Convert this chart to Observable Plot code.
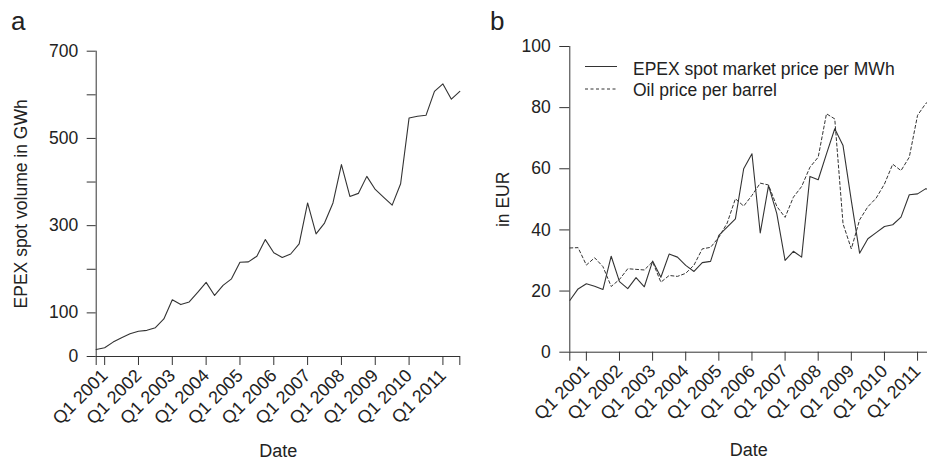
<!DOCTYPE html>
<html>
<head>
<meta charset="utf-8">
<script src="https://cdn.jsdelivr.net/npm/d3@7"></script>
<script src="https://cdn.jsdelivr.net/npm/@observablehq/plot@0.6"></script>
<style>
  body { margin: 0; background: #fff; }
  #wrap { position: relative; width: 927px; height: 459px; overflow: hidden; background: #fff;
          font-family: "Liberation Sans", Arial, sans-serif; }
  #pa { position: absolute; left: 0; top: 0; }
  #pb { position: absolute; left: 460px; top: 0; }
  #overlay { position: absolute; left: 0; top: 0; pointer-events: none; }
</style>
</head>
<body>
<div id="wrap">
  <div id="pa"></div>
  <div id="pb"></div>
  <svg id="overlay" width="927" height="459" font-family="Liberation Sans, Arial, sans-serif" fill="#222">
    <text x="11" y="30" font-size="26">a</text>
    <text x="490" y="29.5" font-size="26">b</text>
    <g id="legend" font-size="17.5"></g>
  </svg>
</div>
<script>
// ---- data (quarterly) ----
const quarters = [
  "Q3 2000","Q4 2000",
  "Q1 2001","Q2 2001","Q3 2001","Q4 2001",
  "Q1 2002","Q2 2002","Q3 2002","Q4 2002",
  "Q1 2003","Q2 2003","Q3 2003","Q4 2003",
  "Q1 2004","Q2 2004","Q3 2004","Q4 2004",
  "Q1 2005","Q2 2005","Q3 2005","Q4 2005",
  "Q1 2006","Q2 2006","Q3 2006","Q4 2006",
  "Q1 2007","Q2 2007","Q3 2007","Q4 2007",
  "Q1 2008","Q2 2008","Q3 2008","Q4 2008",
  "Q1 2009","Q2 2009","Q3 2009","Q4 2009",
  "Q1 2010","Q2 2010","Q3 2010","Q4 2010",
  "Q1 2011","Q2 2011","Q3 2011"
];
// Panel a: EPEX spot volume in GWh
const volumeGWh = [
  null, 16,
  20, 33, 43, 52,
  58, 60, 66, 86,
  130, 119, 125, 147,
  170, 140, 163, 178,
  216, 217, 230, 268,
  238, 227, 235, 258,
  352, 281, 306, 352,
  440, 367, 374, 413,
  383, 365, 347, 396,
  547, 551, 553, 608,
  625, 590, 608
];
// Panel b: EPEX spot market price per MWh (EUR)
const epexPrice = [
  16.9, 20.7,
  22.4, 21.6, 20.5, 31.4,
  23.1, 20.8, 24.4, 21.4,
  29.8, 24.5, 32.1, 31.1,
  28.4, 26.4, 29.3, 29.7,
  38.2, 40.9, 43.6, 60.0,
  64.9, 39.0, 54.5, 45.3,
  30.0, 33.0, 31.1, 57.5,
  56.4, 64.9, 73.1, 67.6,
  49.6, 32.4, 37.1, 39.1,
  41.1, 41.7, 44.2, 51.5,
  51.8, 53.5, 52.6
];
// Panel b: Oil price per barrel (EUR)
const oilPrice = [
  34.1, 34.2,
  28.5, 30.9, 28.0, 21.5,
  23.8, 27.3, 27.1, 26.9,
  29.6, 22.9, 25.1, 24.8,
  25.8, 28.5, 33.8, 34.3,
  37.6, 42.2, 50.2, 47.8,
  51.3, 55.3, 54.7, 47.7,
  44.1, 50.7, 54.2, 60.5,
  63.8, 78.0, 76.3, 42.0,
  33.8, 43.3, 47.6, 50.4,
  55.0, 61.5, 59.4, 63.8,
  77.5, 81.4, 83.0
];
const yearTicks = [2001, 2002, 2003, 2004, 2005, 2006, 2007, 2008, 2009, 2010, 2011];
const volumeTicks = [0, 100, 200, 300, 400, 500, 600, 700];
const volumeTickLabels = [0, 100, 300, 500, 700];
const priceTicks = [0, 20, 40, 60, 80, 100];
const seriesNames = ["EPEX spot market price per MWh", "Oil price per barrel"];

// quarter label -> fractional year
const qToYear = q => { const [qq, yy] = q.split(" "); return +yy + (+qq.slice(1) - 1) / 4; };
const qx = quarters.map(qToYear);

const dataA = quarters.map((q, i) => ({x: qx[i], v: volumeGWh[i]}));
const dataB = quarters.map((q, i) => ({x: qx[i], epex: epexPrice[i], oil: oilPrice[i]}));

const ink = "#333";
const textCol = "#222";
const baseStyle = {fontSize: "17.5px", fontFamily: "Liberation Sans, Arial, sans-serif", color: textCol, background: "transparent", overflow: "visible"};
const xFmt = d => Number.isInteger(d) ? "Q1 " + d : "";

// ---- Panel a ----
const xStartA = qx[1], xEndA = 2011.52;
const plotA = Plot.plot({
  width: 460, height: 459,
  marginLeft: 95.7, marginRight: 0, marginTop: 50.7, marginBottom: 103,
  style: baseStyle,
  x: {domain: [xStartA, xEndA]},
  y: {domain: [0, 700]},
  marks: [
    Plot.axisY({ticks: volumeTicks, tickSize: 9, tickPadding: 9, stroke: ink,
      tickFormat: d => volumeTickLabels.includes(d) ? String(d) : "",
      label: "EPEX spot volume in GWh", labelAnchor: "center", labelOffset: 82, labelArrow: "none"}),
    Plot.axisX({ticks: [xStartA, ...yearTicks, qx[qx.length - 1]], tickSize: 9, tickPadding: 7, tickRotate: -45, stroke: ink,
      fontSize: 18, tickFormat: xFmt, label: "Date", labelAnchor: "center", labelOffset: 100, labelArrow: "none"}),
    Plot.ruleX([xStartA], {stroke: ink}),
    Plot.ruleY([0], {stroke: ink}),
    Plot.line(dataA, {x: "x", y: "v", stroke: ink, strokeWidth: 1.1})
  ]
});
document.getElementById("pa").append(plotA);

// ---- Panel b ----
const xStartB = qx[0], xEndB = 2011.3;
const plotB = Plot.plot({
  width: 467, height: 459,
  marginLeft: 109.3, marginRight: 0, marginTop: 46, marginBottom: 107.3,
  style: baseStyle,
  x: {domain: [xStartB, xEndB]},
  y: {domain: [0, 100]},
  marks: [
    Plot.axisY({ticks: priceTicks, tickSize: 10, tickPadding: 9, stroke: ink,
      label: "in EUR", labelAnchor: "center", labelOffset: 73, labelArrow: "none"}),
    Plot.axisX({ticks: [xStartB, ...yearTicks], tickSize: 9, tickPadding: 7, tickRotate: -45, stroke: ink,
      fontSize: 18, tickFormat: xFmt, label: "Date", labelAnchor: "center", labelOffset: 104, labelArrow: "none"}),
    Plot.ruleX([xStartB], {stroke: ink}),
    Plot.ruleY([0], {stroke: ink}),
    Plot.line(dataB, {x: "x", y: "oil", stroke: ink, strokeWidth: 1, strokeDasharray: "3,2.5", clip: true}),
    Plot.line(dataB, {x: "x", y: "epex", stroke: ink, strokeWidth: 1.1, clip: true})
  ]
});
document.getElementById("pb").append(plotB);

// ---- legend (panel b) ----
const lg = d3.select("#legend");
const legendRows = [{name: seriesNames[0], dash: null, ly: 66.5, ty: 74.8},
                    {name: seriesNames[1], dash: "3,2.5", ly: 89, ty: 95.8}];
legendRows.forEach(r => {
  lg.append("line").attr("x1", 585).attr("x2", 617).attr("y1", r.ly).attr("y2", r.ly)
    .attr("stroke", ink).attr("stroke-width", 1).attr("stroke-dasharray", r.dash);
  lg.append("text").attr("x", 633).attr("y", r.ty).text(r.name);
});
</script>
</body>
</html>
